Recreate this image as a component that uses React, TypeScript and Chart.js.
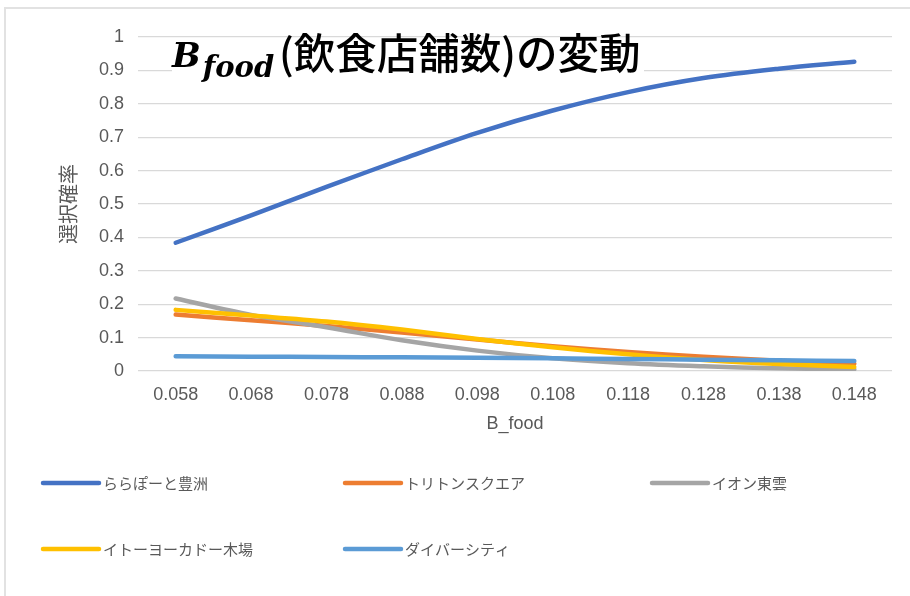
import React, { useEffect, useRef } from "react";
import { Chart, registerables } from "chart.js";

Chart.register(...registerables);

const categories = ["0.058", "0.068", "0.078", "0.088", "0.098", "0.108", "0.118", "0.128", "0.138", "0.148"];
const seriesNames = ["ららぽーと豊洲", "トリトンスクエア", "イオン東雲", "イトーヨーカドー木場", "ダイバーシティ"];
const lalaport = [0.384, 0.466, 0.551, 0.634, 0.713, 0.78, 0.835, 0.877, 0.905, 0.926];
const triton = [0.169, 0.152, 0.135, 0.115, 0.094, 0.074, 0.057, 0.043, 0.031, 0.022];
const aeon = [0.217, 0.168, 0.131, 0.092, 0.061, 0.038, 0.023, 0.014, 0.008, 0.005];
const itoyokado = [0.183, 0.166, 0.148, 0.124, 0.096, 0.071, 0.05, 0.033, 0.021, 0.012];
const divercity = [0.044, 0.043, 0.042, 0.041, 0.04, 0.038, 0.036, 0.034, 0.032, 0.03];
const seriesColors = ["#4472C4", "#ED7D31", "#A5A5A5", "#FFC000", "#5B9BD5"];
const yMin = 0;
const yMax = 1;
const yStep = 0.1;
const xTitle = "B_food";
const yTitle = "選択確率";
const titleMain = "B";
const titleSub = "food";
const titleRest = "(飲食店舗数)の変動";

const TEXT_GRAY = "#595959";
const CJK = "'Noto Sans CJK JP', 'Noto Sans', sans-serif";
const LATIN = "'Liberation Sans Narrow', 'Liberation Sans', sans-serif";

const overlayPlugin = {
  id: "overlay",
  afterDraw(chart: any) {
    const ctx = chart.ctx as CanvasRenderingContext2D;
    ctx.save();
    // title background
    ctx.fillStyle = "#ffffff";
    ctx.fillRect(172, 39, 472, 46);
    ctx.fillStyle = "#000000";
    ctx.textBaseline = "alphabetic";
    ctx.textAlign = "left";
    ctx.font = "bold italic 34px 'DejaVu Serif', serif";
    ctx.fillText(titleMain, 172, 67);
    const bw = ctx.measureText(titleMain).width;
    ctx.font = "bold italic 29px 'DejaVu Serif', serif";
    ctx.fillText(titleSub, 172 + bw + 2, 77);
    ctx.font = "500 41.5px " + CJK;
    ctx.textBaseline = "middle";
    ctx.fillText(titleRest, 279, 53);

    // legend
    const colX = [43, 345, 652];
    const rowY = [483, 549];
    chart.data.datasets.forEach((ds: any, i: number) => {
      const x0 = colX[i % 3];
      const y = rowY[Math.floor(i / 3)];
      ctx.strokeStyle = ds.borderColor;
      ctx.lineWidth = 4.5;
      ctx.lineCap = "round";
      ctx.beginPath();
      ctx.moveTo(x0, y);
      ctx.lineTo(x0 + 56, y);
      ctx.stroke();
      ctx.fillStyle = TEXT_GRAY;
      ctx.font = "15px " + CJK;
      ctx.textBaseline = "middle";
      ctx.fillText(ds.label, x0 + 60, y);
    });
    ctx.restore();
  },
};

export default function App() {
  const ref = useRef<HTMLCanvasElement | null>(null);
  useEffect(() => {
    if (!ref.current) return;
    const seriesData = [lalaport, triton, aeon, itoyokado, divercity];
    const chart = new Chart(ref.current, {
      type: "line",
      data: {
        labels: categories,
        datasets: seriesNames.map((name, i) => ({
          label: name,
          data: seriesData[i],
          borderColor: seriesColors[i],
          backgroundColor: seriesColors[i],
          borderWidth: 4.5,
          pointRadius: 0,
          pointHoverRadius: 0,
          tension: 0.35,
          borderCapStyle: "round" as const,
          borderJoinStyle: "round" as const,
          fill: false,
          order: seriesNames.length - i,
        })),
      },
      options: {
        responsive: false,
        animation: false,
        layout: { padding: { left: 0, right: 18, top: 37, bottom: 156 } },
        plugins: {
          legend: { display: false },
          title: { display: false },
          tooltip: { enabled: false },
        },
        scales: {
          x: {
            type: "category",
            offset: true,
            grid: { display: false, drawTicks: false },
            border: { display: false },
            ticks: {
              color: TEXT_GRAY,
              font: { family: LATIN, size: 18 },
              padding: 13,
              maxRotation: 0,
              autoSkip: false,
            },
            title: {
              display: true,
              text: xTitle,
              color: TEXT_GRAY,
              font: { family: LATIN, size: 18 },
              padding: { top: 0, bottom: 5 },
            },
            afterFit(scale: any) {
              scale.height = 69;
            },
          },
          y: {
            min: yMin,
            max: yMax,
            grid: { color: "#d9d9d9", lineWidth: 1.2, drawTicks: false },
            border: { display: false },
            ticks: {
              stepSize: yStep,
              color: TEXT_GRAY,
              font: { family: LATIN, size: 18 },
              padding: 14,
              callback: (v: any) => String(Number(Number(v).toFixed(1))),
            },
            title: {
              display: true,
              text: yTitle,
              color: TEXT_GRAY,
              font: { family: CJK, size: 20 },
              padding: { top: 56, bottom: 0 },
            },
            afterFit(scale: any) {
              scale.width = 138;
            },
          },
        },
      },
      plugins: [overlayPlugin],
    });
    return () => chart.destroy();
  }, []);

  return (
    <div style={{ position: "fixed", left: 0, top: 0, width: 910, height: 596, background: "#fff", overflow: "hidden" }}>
      <div
        style={{
          position: "absolute",
          left: 4,
          top: 7,
          width: 940,
          height: 620,
          borderLeft: "2px solid #e2e2e2",
          borderTop: "2px solid #e2e2e2",
        }}
      />
      <canvas ref={ref} width={910} height={596} style={{ position: "absolute", left: 0, top: 0, display: "block" }} />
    </div>
  );
}
